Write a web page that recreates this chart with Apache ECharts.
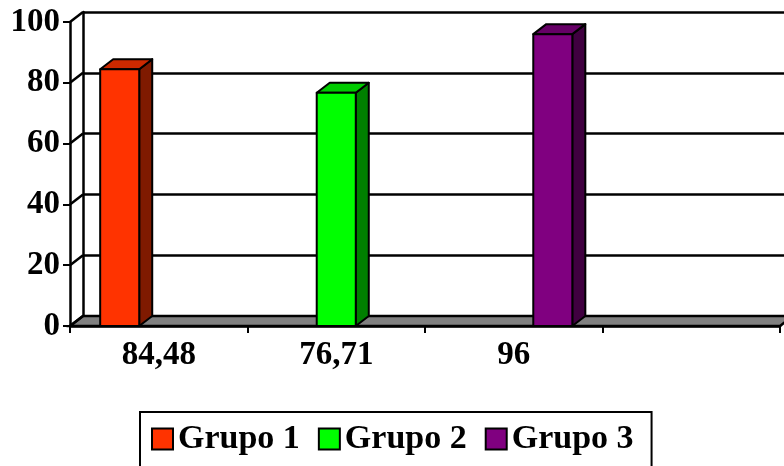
<!DOCTYPE html>
<html>
<head>
<meta charset="utf-8">
<script src="https://cdn.jsdelivr.net/npm/echarts@6/dist/echarts.min.js"></script>
<style>html,body{margin:0;padding:0;background:#fff}#c{width:784px;height:466px}</style>
</head>
<body>
<div id="c"></div>
<script>
const categories = ['84,48', '76,71', '96', ''];
const seriesNames = ['Grupo 1', 'Grupo 2', 'Grupo 3'];
const grupo1 = [84.48, null, null, null];
const grupo2 = [null, 76.71, null, null];
const grupo3 = [null, null, 96, null];
const yTicks = [0, 20, 40, 60, 80, 100];

const FONT = 'Liberation Serif';
const DX = 13, DY = -10;
const faces = [
  ['#FF3300', '#CC2900', '#7F1A00'],
  ['#00FF00', '#00CC00', '#008000'],
  ['#800080', '#660066', '#400040']
];

function barRender(slot) {
  return function (params, api) {
    const cat = api.value(0), v = api.value(1);
    const base = api.coord([cat, 0]);
    const top = api.coord([cat, v]);
    const band = api.size([1, 0])[0];
    const w = band * 0.22;
    const x0 = base[0] + (slot - 1) * w - w / 2, x1 = x0 + w;
    const yt = top[1], yb = base[1];
    const st = { stroke: '#000', lineWidth: 2, lineJoin: 'round' };
    return {
      type: 'group',
      children: [
        { type: 'polygon', shape: { points: [[x1, yt], [x1 + DX, yt + DY], [x1 + DX, yb + DY], [x1, yb]] }, style: Object.assign({ fill: faces[slot][2] }, st) },
        { type: 'polygon', shape: { points: [[x0, yt], [x1, yt], [x1 + DX, yt + DY], [x0 + DX, yt + DY]] }, style: Object.assign({ fill: faces[slot][1] }, st) },
        { type: 'rect', shape: { x: x0, y: yt, width: w, height: yb - yt }, style: Object.assign({ fill: faces[slot][0] }, st) }
      ]
    };
  };
}

function toData(arr) {
  return arr.map((v, i) => [i, v]).filter(d => d[1] != null);
}

const floorSeries = {
  type: 'custom', name: 'floor', xAxisIndex: 0, yAxisIndex: 0, clip: false, silent: true,
  data: [[0, 0]],
  renderItem: function (params, api) {
    const band = api.size([1, 0])[0];
    const l = api.coord([0, 0]);
    const r = api.coord([categories.length - 1, 0]);
    const xl = l[0] - band / 2, xr = r[0] + band / 2, y = l[1];
    return { type: 'polygon', shape: { points: [[xl, y], [xr, y], [xr + DX, y + DY], [xl + DX, y + DY]] },
      style: { fill: '#808080', stroke: '#000', lineWidth: 2.5 } };
  }
};

const wallSeries = {
  type: 'custom', name: 'wall', xAxisIndex: 0, yAxisIndex: 0, clip: false, silent: true,
  data: yTicks.map(v => [0, v]),
  renderItem: function (params, api) {
    const band = api.size([1, 0])[0];
    const p = api.coord([0, api.value(1)]);
    const xl = p[0] - band / 2, y = p[1];
    return { type: 'line', shape: { x1: xl, y1: y, x2: xl + DX, y2: y + DY }, style: { stroke: '#000', lineWidth: 2.5 } };
  }
};

const groups = [grupo1, grupo2, grupo3];
const barSeries = groups.map((g, i) => ({
  type: 'custom', name: seriesNames[i], xAxisIndex: 0, yAxisIndex: 0, clip: false,
  itemStyle: { color: faces[i][0] },
  data: toData(g),
  renderItem: barRender(i)
}));

const chart = echarts.init(document.getElementById('c'), null, { renderer: 'canvas' });
chart.setOption({
  animation: false,
  backgroundColor: '#fff',
  grid: [
    { left: 70, right: 4, top: 22, bottom: 140 },
    { left: 83, right: -9, top: 12, bottom: 150 }
  ],
  xAxis: [
    { type: 'category', gridIndex: 0, data: categories, boundaryGap: true,
      axisLine: { lineStyle: { color: '#000', width: 2.5 } },
      axisTick: { show: true, length: 7, lineStyle: { color: '#000', width: 2 } },
      axisLabel: { interval: 0, margin: 13, color: '#000', fontFamily: FONT, fontWeight: 'bold', fontSize: 33 } },
    { type: 'value', gridIndex: 1, show: false, min: 0, max: 1 }
  ],
  yAxis: [
    { type: 'value', gridIndex: 0, min: 0, max: 100, interval: 20,
      axisLine: { show: true, lineStyle: { color: '#000', width: 2.5 } },
      axisTick: { show: true, length: 7, lineStyle: { color: '#000', width: 2 } },
      splitLine: { show: false },
      axisLabel: { margin: 10, color: '#000', fontFamily: FONT, fontWeight: 'bold', fontSize: 33 } },
    { type: 'value', gridIndex: 1, min: 0, max: 100, interval: 20,
      axisLine: { show: true, lineStyle: { color: '#000', width: 2.5 } },
      axisTick: { show: false }, axisLabel: { show: false },
      splitLine: { show: true, lineStyle: { color: '#000', width: 2.5 } } }
  ],
  legend: {
    data: seriesNames.map((n, i) => ({ name: n, icon: 'rect', itemStyle: { color: faces[i][0], borderColor: '#000', borderWidth: 2 } })),
    left: 140, top: 412,
    orient: 'horizontal',
    itemWidth: 21, itemHeight: 21, itemGap: 18,
    padding: [7, 18, 20, 11],
    borderColor: '#000', borderWidth: 2,
    textStyle: { color: '#000', fontFamily: FONT, fontWeight: 'bold', fontSize: 34, lineHeight: 40 }
  },
  series: [floorSeries, wallSeries].concat(barSeries)
});
</script>
</body>
</html>
